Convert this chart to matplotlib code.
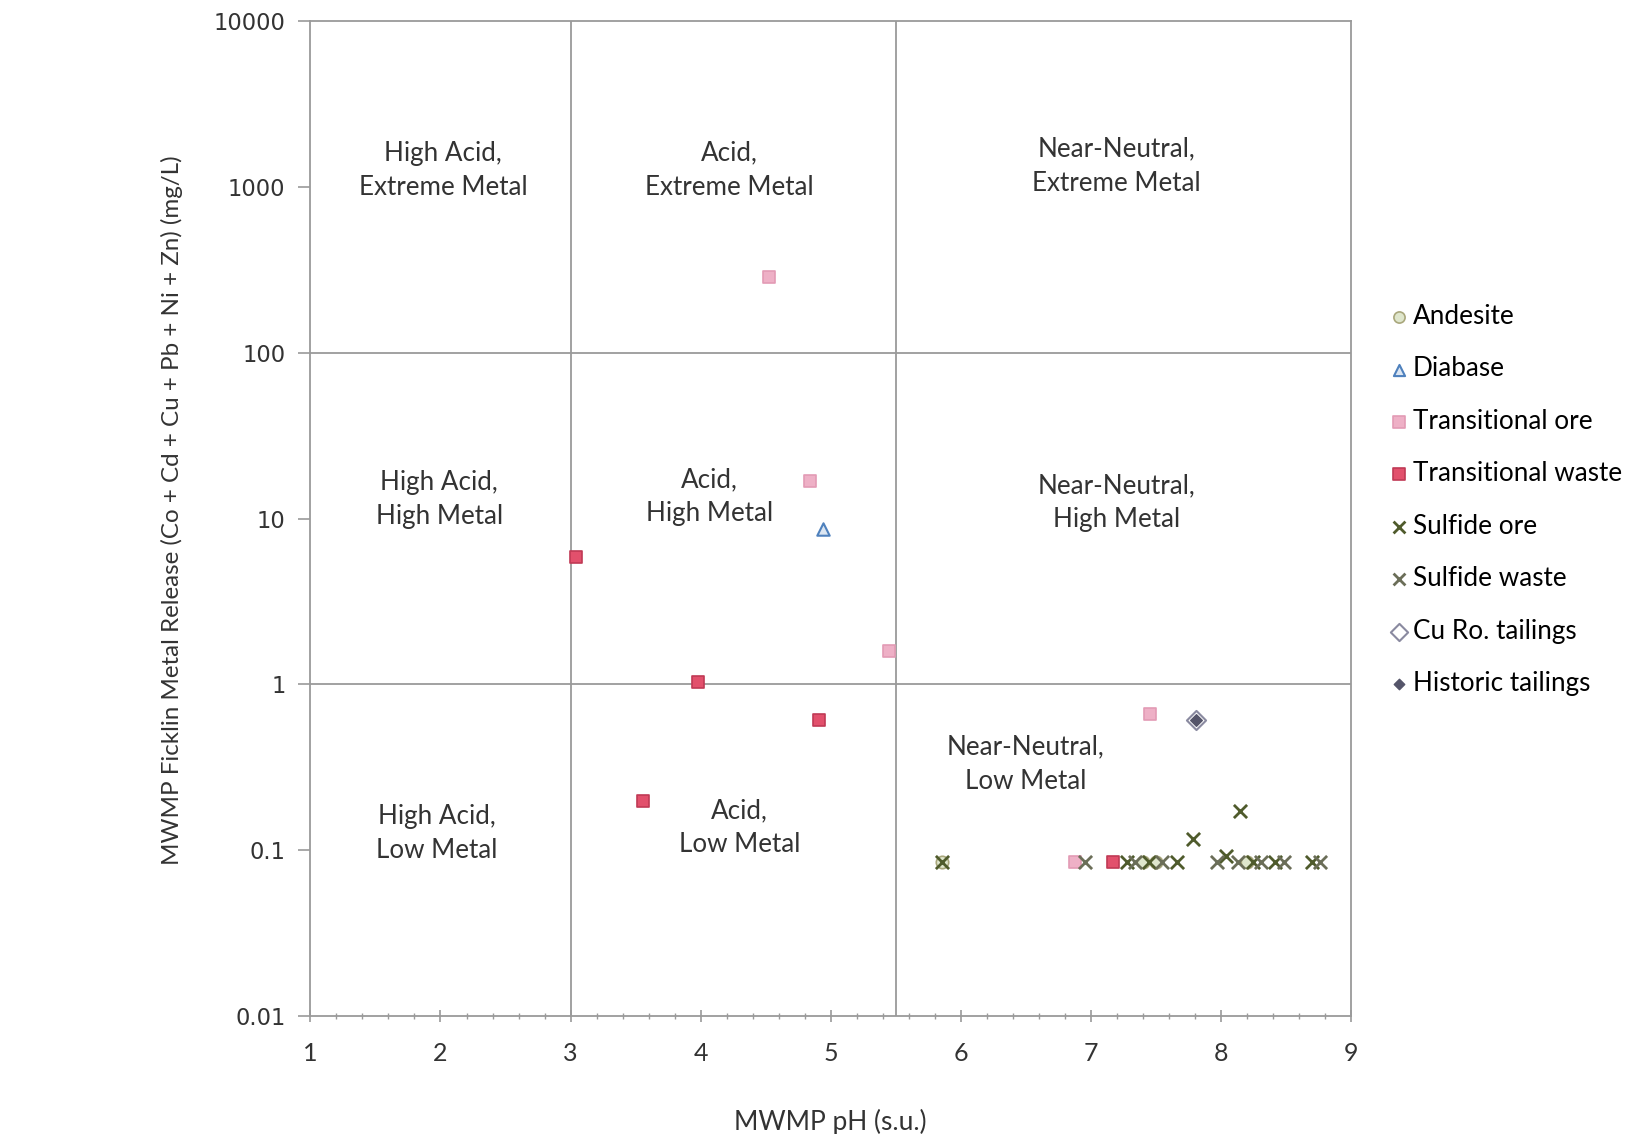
import matplotlib
matplotlib.use("Agg")
import matplotlib.pyplot as plt
from matplotlib.ticker import FixedLocator, FuncFormatter, MultipleLocator

# data (pH, metal release mg/L)
andesite_ph = [5.86, 7.40, 7.50, 8.20]
andesite_mr = [0.085, 0.085, 0.085, 0.085]

diabase_ph = [4.94]
diabase_mr = [8.7]

trans_ore_ph = [4.53, 4.84, 5.45, 7.46, 6.88]
trans_ore_mr = [285, 16.9, 1.6, 0.66, 0.085]

trans_waste_ph = [3.04, 3.98, 4.91, 3.56, 7.17]
trans_waste_mr = [5.9, 1.03, 0.61, 0.197, 0.085]

sulf_ore_ph = [5.86, 7.28, 7.45, 7.66, 7.79, 8.04, 8.25, 8.42, 8.70, 8.15]
sulf_ore_mr = [0.085, 0.085, 0.085, 0.085, 0.117, 0.092, 0.085, 0.085, 0.085, 0.173]

sulf_waste_ph = [6.96, 7.34, 7.55, 7.97, 8.13, 8.31, 8.49, 8.76]
sulf_waste_mr = [0.085, 0.085, 0.085, 0.085, 0.085, 0.085, 0.085, 0.085]

cu_ro_ph = [7.81]
cu_ro_mr = [0.61]

hist_ph = [7.81]
hist_mr = [0.61]

# zone labels (x, y, text)
zone_x = [2.02, 4.22, 7.20, 1.99, 4.07, 7.20, 6.50, 1.97, 4.30]
zone_y = [1260, 1260, 1330, 13.1, 13.5, 12.5, 0.33, 0.126, 0.137]
zone_txt = ["High Acid,\nExtreme Metal", "Acid,\nExtreme Metal", "Near-Neutral,\nExtreme Metal",
            "High Acid,\nHigh Metal", "Acid,\nHigh Metal", "Near-Neutral,\nHigh Metal",
            "Near-Neutral,\nLow Metal", "High Acid,\nLow Metal", "Acid,\nLow Metal"]

y_ticks = [0.01, 0.1, 1, 10, 100, 1000, 10000]
x_ticks = [1, 2, 3, 4, 5, 6, 7, 8, 9]

fig = plt.figure(figsize=(16.28, 11.34), dpi=100)
ax = fig.add_axes([0.1907, 0.104, 0.639, 0.8775])
ax.set_yscale("log")
ax.set_xlim(1, 9)
ax.set_ylim(0.01, 10000)

gc = "#9a9a9a"
for v in [3, 5.5]:
    ax.axvline(v, color=gc, lw=1.3, zorder=1)
for h in [1, 100]:
    ax.axhline(h, color=gc, lw=1.3, zorder=1)
for s in ax.spines.values():
    s.set_color(gc)
    s.set_linewidth(1.3)

ax.scatter(andesite_ph, andesite_mr, marker="o", s=80, facecolor="#dfe6cc", edgecolor="#a9a77c",
           linewidth=1.2, label="Andesite", zorder=3)
ax.scatter(diabase_ph, diabase_mr, marker="^", s=80, facecolor="#dce6f2", edgecolor="#4f81bd",
           linewidth=1.5, label="Diabase", zorder=3)
ax.scatter(trans_ore_ph, trans_ore_mr, marker="s", s=85, facecolor="#eeb0c6", edgecolor="#e39bb5",
           linewidth=1.2, label="Transitional ore", zorder=3)
ax.scatter(trans_waste_ph, trans_waste_mr, marker="s", s=85, facecolor="#e2506c", edgecolor="#c03a55",
           linewidth=1.2, label="Transitional waste", zorder=3)
ax.scatter(sulf_ore_ph, sulf_ore_mr, marker="x", s=90, color="#4f5b2c", linewidth=2.0,
           label="Sulfide ore", zorder=4)
ax.scatter(sulf_waste_ph, sulf_waste_mr, marker="x", s=90, color="#6b6e58", linewidth=2.0,
           label="Sulfide waste", zorder=4)
ax.scatter(cu_ro_ph, cu_ro_mr, marker="D", s=95, facecolor="white", edgecolor="#8a8aa0",
           linewidth=1.5, label="Cu Ro. tailings", zorder=3)
ax.scatter(hist_ph, hist_mr, marker="D", s=35, facecolor="#55556a", edgecolor="#55556a",
           label="Historic tailings", zorder=4)

for x, y, t in zip(zone_x, zone_y, zone_txt):
    ax.text(x, y, t, ha="center", va="center", fontsize=18.7, family="Lato", color="#333333",
            linespacing=1.45, zorder=2)

ax.yaxis.set_major_locator(FixedLocator(y_ticks))
ax.yaxis.set_major_formatter(FuncFormatter(lambda v, p: "%g" % v))
ax.yaxis.set_minor_locator(FixedLocator([]))
ax.xaxis.set_major_locator(FixedLocator(x_ticks))
ax.xaxis.set_minor_locator(MultipleLocator(0.2))
ax.tick_params(axis="y", which="major", direction="out", length=9, width=1.2, color=gc,
               labelsize=16.3, labelcolor="#333333", pad=9)
ax.tick_params(axis="x", which="major", direction="inout", length=9, width=1.2, color=gc,
               labelsize=18, labelcolor="#333333", pad=14)
ax.tick_params(axis="x", which="minor", direction="inout", length=5, width=1.0, color=gc)
for lab in ax.get_xticklabels():
    lab.set_family("Lato")

ax.set_xlabel("MWMP pH (s.u.)", fontsize=19, family="Lato", color="#333333", labelpad=32)
ax.set_ylabel("MWMP Ficklin Metal Release (Co + Cd + Cu + Pb + Ni + Zn) (mg/L)", fontsize=17.4,
              family="Lato", color="#333333")
ax.yaxis.set_label_coords(-0.1225, 0.508)

ax.legend(loc="upper left", bbox_to_anchor=(1.026, 0.726), frameon=False,
          prop={"family": "Lato", "size": 18.8}, handletextpad=0.15, handlelength=0.8,
          labelspacing=1.05, borderaxespad=0, scatterpoints=1, markerscale=0.9)

fig.savefig("out.png", dpi=100)
